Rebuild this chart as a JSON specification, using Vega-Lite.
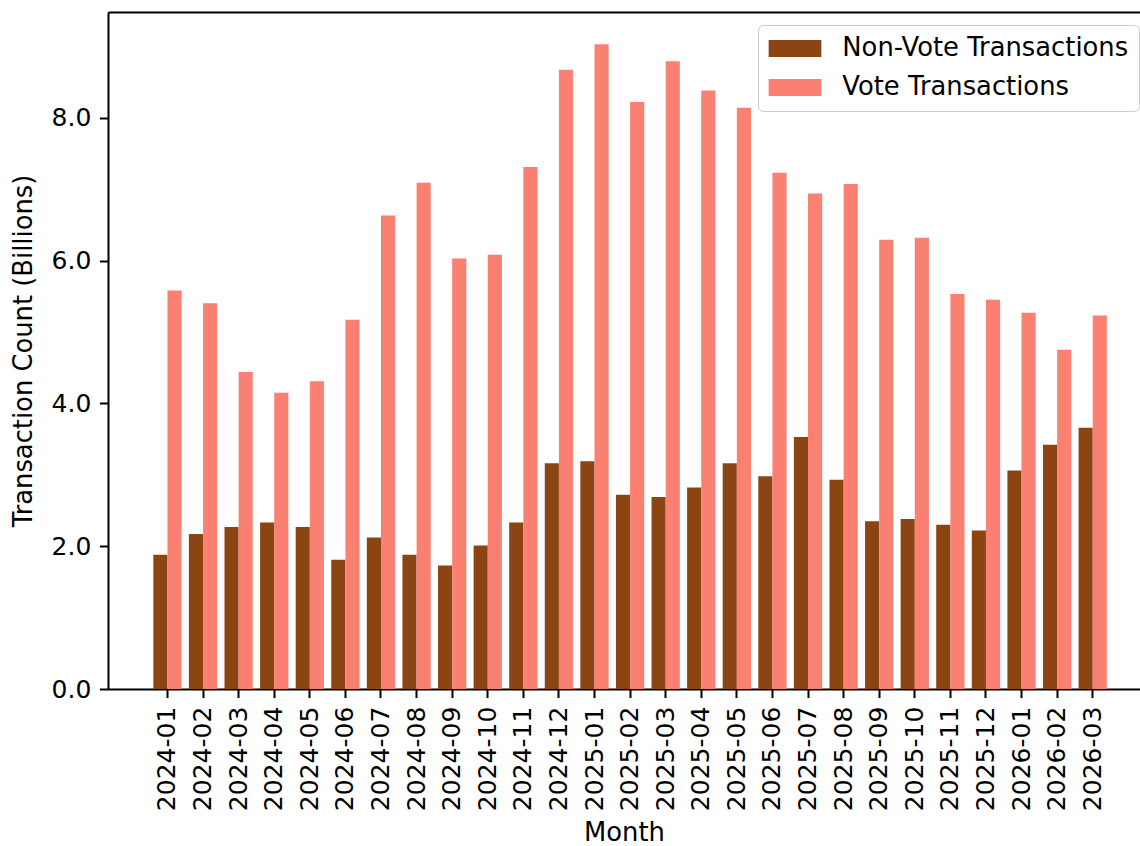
{
  "$schema": "https://vega.github.io/schema/vega-lite/v6.json",
  "width": 1032,
  "height": 677,
  "autosize": {"type": "none"},
  "padding": {"left": 108, "top": 12, "right": 0, "bottom": 157},
  "background": "white",
  "data": {
    "values": [
      {"month": "2024-01", "Non-Vote Transactions": 1.88, "Vote Transactions": 5.58},
      {"month": "2024-02", "Non-Vote Transactions": 2.17, "Vote Transactions": 5.40},
      {"month": "2024-03", "Non-Vote Transactions": 2.27, "Vote Transactions": 4.44},
      {"month": "2024-04", "Non-Vote Transactions": 2.33, "Vote Transactions": 4.15},
      {"month": "2024-05", "Non-Vote Transactions": 2.27, "Vote Transactions": 4.31},
      {"month": "2024-06", "Non-Vote Transactions": 1.81, "Vote Transactions": 5.17},
      {"month": "2024-07", "Non-Vote Transactions": 2.12, "Vote Transactions": 6.63},
      {"month": "2024-08", "Non-Vote Transactions": 1.88, "Vote Transactions": 7.09},
      {"month": "2024-09", "Non-Vote Transactions": 1.73, "Vote Transactions": 6.03},
      {"month": "2024-10", "Non-Vote Transactions": 2.01, "Vote Transactions": 6.08},
      {"month": "2024-11", "Non-Vote Transactions": 2.33, "Vote Transactions": 7.31},
      {"month": "2024-12", "Non-Vote Transactions": 3.16, "Vote Transactions": 8.67},
      {"month": "2025-01", "Non-Vote Transactions": 3.19, "Vote Transactions": 9.03},
      {"month": "2025-02", "Non-Vote Transactions": 2.72, "Vote Transactions": 8.22},
      {"month": "2025-03", "Non-Vote Transactions": 2.69, "Vote Transactions": 8.79},
      {"month": "2025-04", "Non-Vote Transactions": 2.82, "Vote Transactions": 8.38},
      {"month": "2025-05", "Non-Vote Transactions": 3.16, "Vote Transactions": 8.14},
      {"month": "2025-06", "Non-Vote Transactions": 2.98, "Vote Transactions": 7.23},
      {"month": "2025-07", "Non-Vote Transactions": 3.53, "Vote Transactions": 6.94},
      {"month": "2025-08", "Non-Vote Transactions": 2.93, "Vote Transactions": 7.07},
      {"month": "2025-09", "Non-Vote Transactions": 2.35, "Vote Transactions": 6.29},
      {"month": "2025-10", "Non-Vote Transactions": 2.38, "Vote Transactions": 6.32},
      {"month": "2025-11", "Non-Vote Transactions": 2.30, "Vote Transactions": 5.53},
      {"month": "2025-12", "Non-Vote Transactions": 2.22, "Vote Transactions": 5.45},
      {"month": "2026-01", "Non-Vote Transactions": 3.06, "Vote Transactions": 5.27},
      {"month": "2026-02", "Non-Vote Transactions": 3.42, "Vote Transactions": 4.75},
      {"month": "2026-03", "Non-Vote Transactions": 3.66, "Vote Transactions": 5.23}
    ]
  },
  "transform": [
    {"fold": ["Non-Vote Transactions", "Vote Transactions"], "as": ["type", "count"]}
  ],
  "layer": [
    {
      "mark": {"type": "bar", "strokeWidth": 0},
      "encoding": {
        "x": {
          "field": "month", "type": "nominal", "sort": null,
          "scale": {"paddingInner": 0, "paddingOuter": 1, "align": 0.5857},
          "axis": {
            "orient": "bottom", "title": "Month", "labelAngle": 270,
            "titlePadding": 10
          }
        },
        "xOffset": {
          "field": "type", "type": "nominal",
          "sort": ["Non-Vote Transactions", "Vote Transactions"],
          "scale": {"paddingInner": 0, "paddingOuter": 0.257}
        },
        "y": {
          "field": "count", "type": "quantitative",
          "scale": {"domain": [0, 9.48], "nice": false, "zero": true},
          "axis": {
            "title": "Transaction Count (Billions)",
            "values": [0, 2, 4, 6, 8], "format": ".1f",
            "titlePadding": 15
          }
        },
        "color": {
          "field": "type", "type": "nominal",
          "scale": {
            "domain": ["Non-Vote Transactions", "Vote Transactions"],
            "range": ["#8B4513", "#FA8072"]
          },
          "legend": {
            "orient": "none", "legendX": 650, "legendY": 13, "title": null,
            "symbolType": "M-1.5,-1H4.7V1H-1.5Z", "symbolSize": 289,
            "symbolStrokeWidth": 0, "symbolOpacity": 1,
            "labelFont": "DejaVu Sans", "labelFontSize": 25.8, "labelColor": "#000000",
            "labelOffset": 48, "labelLimit": 0,
            "padding": 10.5, "rowPadding": 12,
            "fillColor": "rgba(255,255,255,0.8)", "strokeColor": "#cccccc",
            "cornerRadius": 5
          }
        }
      }
    },
    {
      "mark": {"type": "bar", "opacity": 0},
      "encoding": {
        "x": {
          "field": "month", "type": "nominal", "sort": null,
          "axis": {"orient": "top", "title": null, "labels": false, "ticks": false, "domain": true}
        },
        "xOffset": {
          "field": "type", "type": "nominal",
          "sort": ["Non-Vote Transactions", "Vote Transactions"]
        },
        "y": {"field": "count", "type": "quantitative"}
      }
    }
  ],
  "resolve": {"axis": {"x": "independent"}},
  "config": {
    "view": {"stroke": null},
    "axis": {
      "grid": false,
      "domainColor": "#000000", "domainWidth": 2,
      "tickColor": "#000000", "tickWidth": 2, "tickSize": 8.6,
      "labelPadding": 8.6,
      "labelFont": "DejaVu Sans", "labelFontSize": 25, "labelColor": "#000000",
      "titleFont": "DejaVu Sans", "titleFontSize": 25.8, "titleColor": "#000000",
      "titleFontWeight": "normal", "labelLimit": 0
    }
  }
}
